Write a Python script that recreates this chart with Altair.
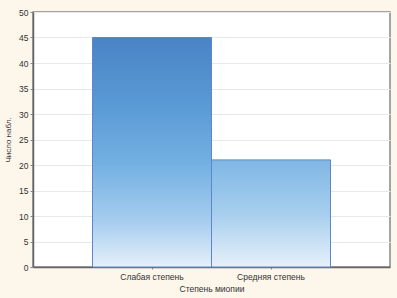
import altair as alt
import pandas as pd

categories = ["Слабая степень", "Средняя степень"]
counts = [45, 21]
y_ticks = [0, 5, 10, 15, 20, 25, 30, 35, 40, 45, 50]

df = pd.DataFrame({"cat": categories, "n": counts})

FONT = "Liberation Sans"

grad1 = alt.LinearGradient(
    gradient="linear", x1=0, y1=0, x2=0, y2=1,
    stops=[alt.GradientStop(offset=0, color="#4983c6"),
           alt.GradientStop(offset=0.3, color="#5a9ad5"),
           alt.GradientStop(offset=0.55, color="#73b0e2"),
           alt.GradientStop(offset=0.8, color="#a6cdee"),
           alt.GradientStop(offset=1, color="#e6f0fa")])
grad2 = alt.LinearGradient(
    gradient="linear", x1=0, y1=0, x2=0, y2=1,
    stops=[alt.GradientStop(offset=0, color="#7fb7e5"),
           alt.GradientStop(offset=0.5, color="#a7ceee"),
           alt.GradientStop(offset=1, color="#e6f0fa")])

x_enc = alt.X("cat:N", sort=categories,
              scale=alt.Scale(paddingInner=0, paddingOuter=0.5),
              axis=alt.Axis(title="Степень миопии", labelAngle=0,
                            labelFont=FONT, labelFontSize=8.5, labelColor="#333",
                            titleFont=FONT, titleFontSize=8.5, titleColor="#333",
                            titleFontWeight="normal", labelPadding=3, titlePadding=4,
                            domainColor="#666", domainWidth=1.5,
                            tickColor="#888", tickSize=2, grid=False))
y_enc = alt.Y("n:Q", scale=alt.Scale(domain=[0, 50], nice=False),
              axis=alt.Axis(title="Число набл.", values=y_ticks,
                            labelFont=FONT, labelFontSize=8.5, labelColor="#333",
                            titleFont=FONT, titleFontSize=8, titleColor="#333",
                            titleFontWeight="normal", titlePadding=6,
                            domainColor="#666", domainWidth=1.5,
                            tickColor="#888", tickSize=3, labelPadding=2,
                            gridColor="#e8e8e8", gridWidth=1))

base = alt.Chart(df)
bar1 = base.transform_filter(alt.datum.cat == categories[0]).mark_bar(
    fill=grad1, stroke="#5f86c8", strokeWidth=1).encode(x=x_enc, y=y_enc)
bar2 = base.transform_filter(alt.datum.cat == categories[1]).mark_bar(
    fill=grad2, stroke="#5f86c8", strokeWidth=1).encode(x=x_enc, y=y_enc)

chart = alt.layer(bar1, bar2).properties(
    width=357, height=255,
    background="#fdf6ea",
    autosize=alt.AutoSizeParams(type="none"),
    padding={"left": 33, "top": 12, "right": 7, "bottom": 31},
).configure_view(fill="white", stroke="#888", strokeWidth=1.5)

chart.save("out.html", embed_options={"renderer": "svg", "actions": False})
